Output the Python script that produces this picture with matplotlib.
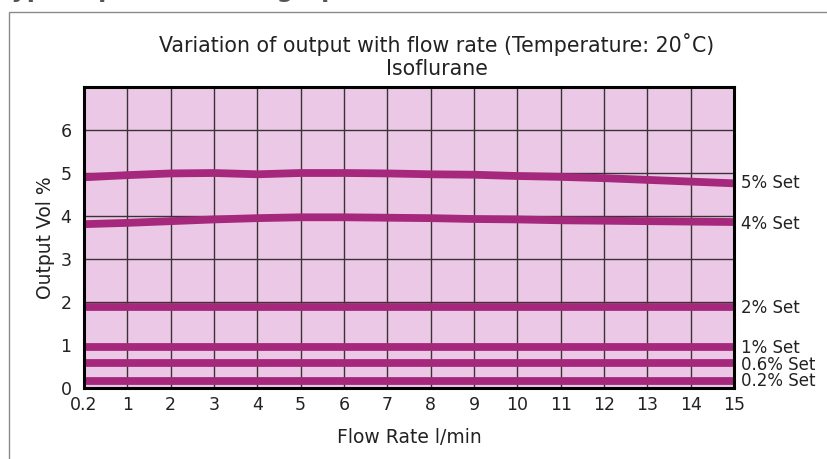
import matplotlib

matplotlib.use("Agg")
import matplotlib.pyplot as plt  # noqa: E402
from matplotlib.patches import Rectangle  # noqa: E402

# flow rate categories (equally spaced on the chart)
flow_labels = ["0.2", "1", "2", "3", "4", "5", "6", "7", "8",
               "9", "10", "11", "12", "13", "14", "15"]

set_5 = [4.90, 4.95, 4.99, 5.00, 4.97, 5.00, 5.00, 4.99,
         4.97, 4.96, 4.93, 4.91, 4.88, 4.84, 4.80, 4.76]
set_4 = [3.81, 3.84, 3.88, 3.92, 3.95, 3.97, 3.97, 3.96,
         3.95, 3.93, 3.92, 3.90, 3.89, 3.88, 3.87, 3.86]
set_2 = [1.88] * 16
set_1 = [0.96] * 16
set_06 = [0.57] * 16
set_02 = [0.17] * 16

series = [set_5, set_4, set_2, set_1, set_06, set_02]
series_labels = ["5% Set", "4% Set", "2% Set", "1% Set", "0.6% Set", "0.2% Set"]
label_y = [4.77, 3.82, 1.86, 0.93, 0.54, 0.16]

LINE_COLOR = "#A5287C"
BG_COLOR = "#EBC9E6"
GRID_COLOR = "#3A3333"
TEXT_COLOR = "#222222"

W, H = 827, 459
fig = plt.figure(figsize=(W / 100, H / 100), dpi=100)
fig.patch.set_facecolor("white")

# frame of the page
fig.patches.append(Rectangle((9 / W, -0.05), 1.0, (H - 12) / H + 0.05,
                             transform=fig.transFigure, fill=False,
                             edgecolor="#8A8A8A", linewidth=1.0))
# page heading, cut off by the top edge (only descenders show)
fig.text(-2 / W, 1 + 3.5 / H, "Typical performance graph", ha="left", va="baseline",
         fontsize=17, fontweight="bold", color="#555555")

left, right, top, bottom = 84, 734, 87, 388
ax = fig.add_axes([left / W, (H - bottom) / H, (right - left) / W, (bottom - top) / H])
ax.set_facecolor(BG_COLOR)

x = list(range(len(flow_labels)))
for vals in series:
    ax.plot(x, vals, color=LINE_COLOR, linewidth=5.6, solid_capstyle="butt", zorder=3)

ax.set_xlim(0, len(flow_labels) - 1)
ax.set_ylim(0, 7.0)
for xi in x[1:-1]:
    ax.axvline(xi, color=GRID_COLOR, linewidth=1.0, zorder=1)
for yi in range(1, 7):
    ax.axhline(yi, color=GRID_COLOR, linewidth=1.0, zorder=1)

ax.set_xticks(x)
ax.set_xticklabels(flow_labels)
ax.set_yticks(range(0, 7))
ax.tick_params(length=0, labelsize=12.5, pad=6, labelcolor=TEXT_COLOR)
ax.tick_params(axis="y", pad=9)
for spine in ax.spines.values():
    spine.set_linewidth(2.2)
    spine.set_color("black")
    spine.set_zorder(4)

for lab, yv in zip(series_labels, label_y):
    ax.text(len(flow_labels) - 1 + 0.17, yv, lab, ha="left", va="center",
            fontsize=12, color=TEXT_COLOR, clip_on=False)

ax.set_xlabel("Flow Rate l/min", fontsize=13.5, labelpad=10, color=TEXT_COLOR)
ax.set_ylabel("Output Vol %", fontsize=13.5, labelpad=4, color=TEXT_COLOR)

fig.text(437 / W, 1 - 45 / H, "Variation of output with flow rate (Temperature: 20\u02daC)",
         ha="center", va="center", fontsize=14.8, color=TEXT_COLOR)
fig.text(437 / W, 1 - 69 / H, "Isoflurane", ha="center", va="center",
         fontsize=14.8, color=TEXT_COLOR)

fig.savefig("out.png", dpi=100)
